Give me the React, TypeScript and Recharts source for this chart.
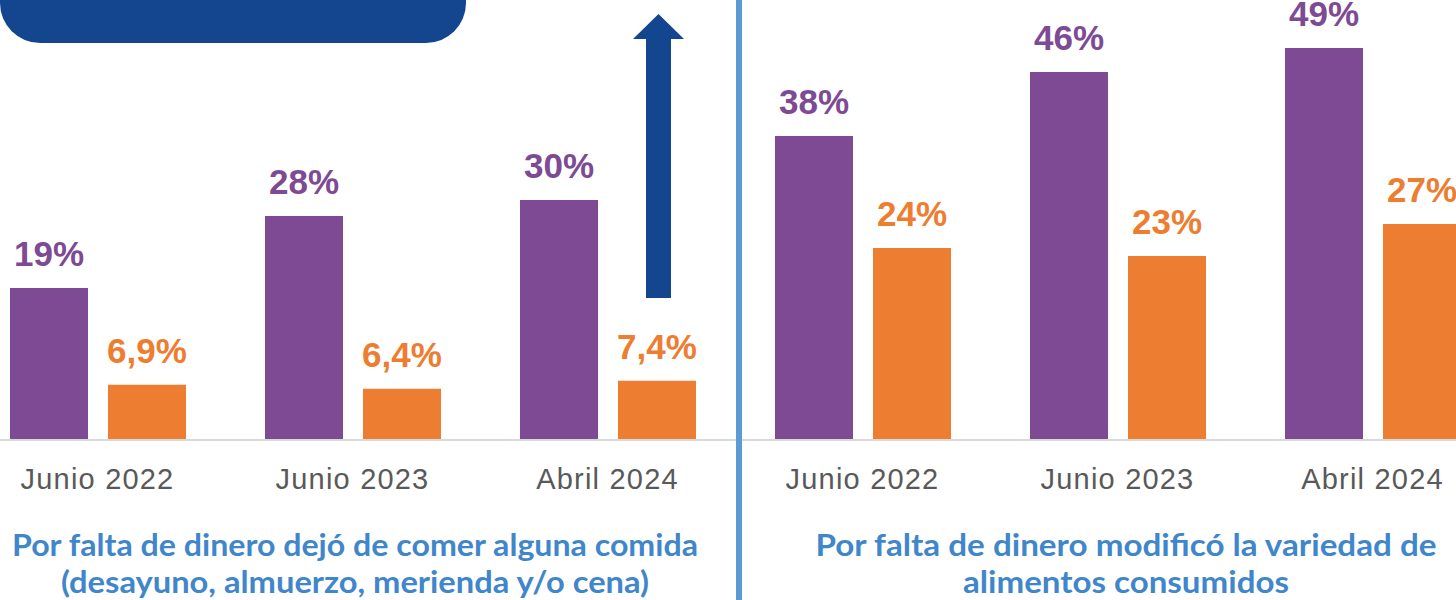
import { Bar, BarChart, LabelList, XAxis, YAxis } from "recharts";

const periods = ["Junio 2022", "Junio 2023", "Abril 2024"];

const skippedMealAll = [19, 28, 30];
const skippedMealAlways = [6.9, 6.4, 7.4];

const lessVarietyAll = [38, 46, 49];
const lessVarietyAlways = [24, 23, 27];

const leftTitle = [
  "Por falta de dinero dejó de comer alguna comida",
  "(desayuno, almuerzo, merienda y/o cena)",
];
const rightTitle = ["Por falta de dinero modificó la variedad de", "alimentos consumidos"];

const PURPLE = "#7E4A94";
const ORANGE = "#ED7D31";
const NAVY = "#144690";
const TITLE_BLUE = "#3F86CB";

const fmt = (v: number) => `${v.toString().replace(".", ",")}%`;

function PeriodTick({ x, y, payload }: any) {
  return (
    <text
      x={x}
      y={y}
      dy={41}
      textAnchor="middle"
      fill="#595959"
      fontSize={29}
      letterSpacing={1.2}
      fontFamily="Liberation Sans, Arial, sans-serif"
    >
      {payload.value}
    </text>
  );
}

function Panel({ all, always, left }: { all: number[]; always: number[]; left: number }) {
  const data = periods.map((p, i) => ({ period: p, all: all[i], always: always[i] }));
  const labelStyle = {
    fontSize: 35,
    fontWeight: 700,
    fontFamily: "Liberation Sans, Arial, sans-serif",
  };
  return (
    <div style={{ position: "absolute", left, top: 0 }}>
      <BarChart
        width={765}
        height={600}
        data={data}
        margin={{ top: 0, right: 0, bottom: 0, left: 0 }}
        barSize={78}
        barGap={20}
      >
        <YAxis hide domain={[0, 55]} />
        <XAxis
          dataKey="period"
          height={160}
          tickLine={false}
          axisLine={{ stroke: "#D9D9D9", strokeWidth: 2 }}
          tick={<PeriodTick />}
          interval={0}
        />
        <Bar dataKey="all" fill={PURPLE} isAnimationActive={false}>
          <LabelList
            dataKey="all"
            position="top"
            offset={22}
            formatter={fmt}
            fill={PURPLE}
            style={labelStyle}
          />
        </Bar>
        <Bar dataKey="always" fill={ORANGE} isAnimationActive={false}>
          <LabelList
            dataKey="always"
            position="top"
            offset={22}
            formatter={fmt}
            fill={ORANGE}
            style={labelStyle}
          />
        </Bar>
      </BarChart>
    </div>
  );
}

function TitleLines({ lines, cx, widths }: { lines: string[]; cx: number; widths: number[] }) {
  return (
    <>
      {lines.map((t, i) => (
        <text
          key={t}
          x={cx}
          y={556 + i * 37}
          textAnchor="middle"
          fill={TITLE_BLUE}
          fontSize={30}
          fontWeight={700}
          fontFamily="Lato, 'Open Sans', sans-serif"
          textLength={widths[i]}
          lengthAdjust="spacingAndGlyphs"
        >
          {t}
        </text>
      ))}
    </>
  );
}

export default function App() {
  return (
    <div
      style={{
        position: "fixed",
        left: 0,
        top: 0,
        width: 1456,
        height: 600,
        overflow: "hidden",
        background: "#fff",
      }}
    >
      <Panel all={skippedMealAll} always={skippedMealAlways} left={-30.5} />
      <Panel all={lessVarietyAll} always={lessVarietyAlways} left={734.5} />
      <svg
        width={1456}
        height={600}
        style={{ position: "absolute", left: 0, top: 0, pointerEvents: "none" }}
      >
        <rect x={0} y={-44} width={466} height={87} rx={40} ry={40} fill={NAVY} />
        <polygon
          points="646,298 671,298 671,39 684,39 658.5,14 633,39 646,39"
          fill={NAVY}
        />
        <rect x={736} y={0} width={6} height={600} fill="#5B9BD5" />
        <TitleLines lines={leftTitle} cx={355} widths={[686, 588]} />
        <TitleLines lines={rightTitle} cx={1126} widths={[621, 326]} />
      </svg>
    </div>
  );
}
